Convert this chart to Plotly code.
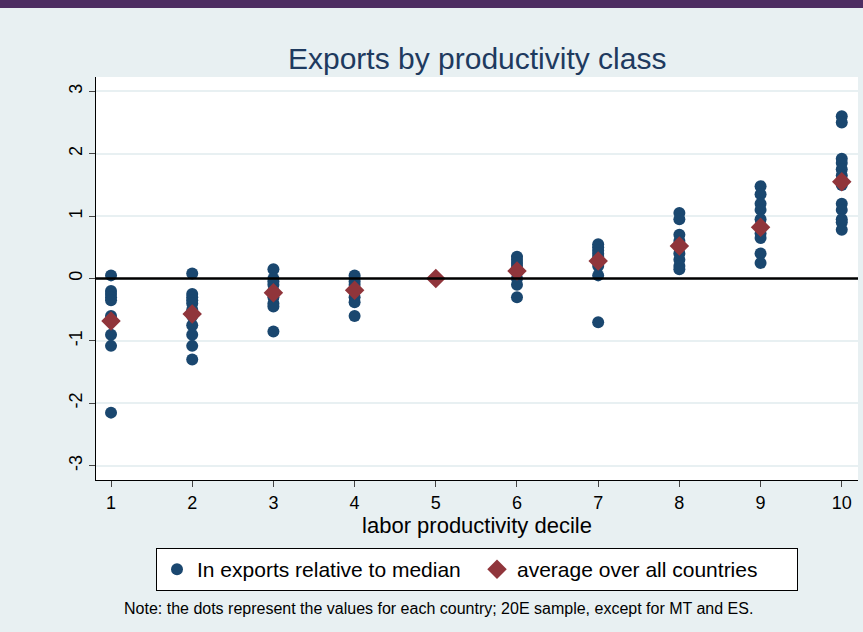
import plotly.graph_objects as go

deciles = [1, 2, 3, 4, 5, 6, 7, 8, 9, 10]
country_values = [
    [0.05, -0.2, -0.25, -0.3, -0.35, -0.6, -0.65, -0.9, -1.08, -2.15],
    [0.08, -0.25, -0.3, -0.35, -0.4, -0.5, -0.6, -0.75, -0.9, -1.08, -1.3],
    [0.15, 0.0, -0.05, -0.1, -0.2, -0.3, -0.4, -0.45, -0.85],
    [0.05, 0.0, -0.05, -0.1, -0.2, -0.3, -0.38, -0.6],
    [0.0],
    [0.35, 0.3, 0.25, 0.2, 0.1, 0.0, -0.1, -0.3],
    [0.55, 0.5, 0.45, 0.4, 0.35, 0.3, 0.2, 0.05, -0.7],
    [1.05, 0.95, 0.7, 0.6, 0.5, 0.4, 0.3, 0.2, 0.15],
    [1.48, 1.35, 1.2, 1.1, 0.95, 0.85, 0.72, 0.65, 0.4, 0.25],
    [2.6, 2.5, 1.92, 1.85, 1.75, 1.65, 1.55, 1.5, 1.2, 1.1, 0.95, 0.9, 0.78],
]
averages = [-0.68, -0.57, -0.23, -0.19, 0.0, 0.12, 0.28, 0.52, 0.82, 1.55]
y_ticks = [-3, -2, -1, 0, 1, 2, 3]
y_labels = ["-3", "-2", "-1", "0", "1", "2", "3"]

xs, ys = [], []
for d, vals in zip(deciles, country_values):
    xs += [d] * len(vals)
    ys += vals

fig = go.Figure()
fig.add_trace(go.Scatter(x=xs, y=ys, mode="markers", name="In exports relative to median",
                         marker=dict(color="#1a476f", size=12)))
fig.add_trace(go.Scatter(x=deciles, y=averages, mode="markers", name="average over all countries",
                         marker=dict(color="#90353b", size=15, symbol="diamond")))

# purple band across the top of the slide
fig.add_shape(type="rect", xref="paper", yref="paper", x0=-0.2, x1=1.2,
              y0=(480 - 8) / 403, y1=(480 + 5) / 403,
              fillcolor="#4d2d62", line_width=0, layer="below")
fig.add_hline(y=0, line=dict(color="black", width=2.5))
fig.add_annotation(text="Note: the dots represent the values for each country; 20E sample, except for MT and ES.",
                   xref="paper", yref="paper", x=0.45, y=-(608 - 480) / 403, yanchor="middle",
                   showarrow=False, font=dict(size=16, color="black"))

fig.update_layout(
    width=863, height=632,
    margin=dict(l=96, r=5, t=77, b=152, autoexpand=False),
    paper_bgcolor="#e8f0f2", plot_bgcolor="white",
    font=dict(family="Liberation Sans, Arial", color="black", size=18),
    title=dict(text="Exports by productivity class", x=0.553, y=1 - 58 / 632, xanchor="center",
               yanchor="middle", font=dict(size=30, color="#1e3a5f")),
    showlegend=True,
    legend=dict(orientation="h", x=0.5, xanchor="center", y=-(548 - 480) / 403, yanchor="top",
                bgcolor="white", bordercolor="black", borderwidth=1, font=dict(size=21),
                itemwidth=30, entrywidth=275, entrywidthmode="pixels"),
    xaxis=dict(range=[0.815, 10.2], tickvals=deciles, showgrid=False, zeroline=False,
               ticks="outside", ticklen=6, showline=True, linecolor="black", automargin=False,
               title=dict(text="labor productivity decile", standoff=0)),
    yaxis=dict(range=[-3.23, 3.23], tickvals=y_ticks, ticktext=y_labels, tickangle=-90,
               gridcolor="#e8f0f2", gridwidth=2, zeroline=False, ticks="outside", ticklen=6,
               showline=True, linecolor="black", automargin=False),
)

fig.write_html("out.html", config={"displayModeBar": False},
               post_script="document.body.style.margin='0';")
